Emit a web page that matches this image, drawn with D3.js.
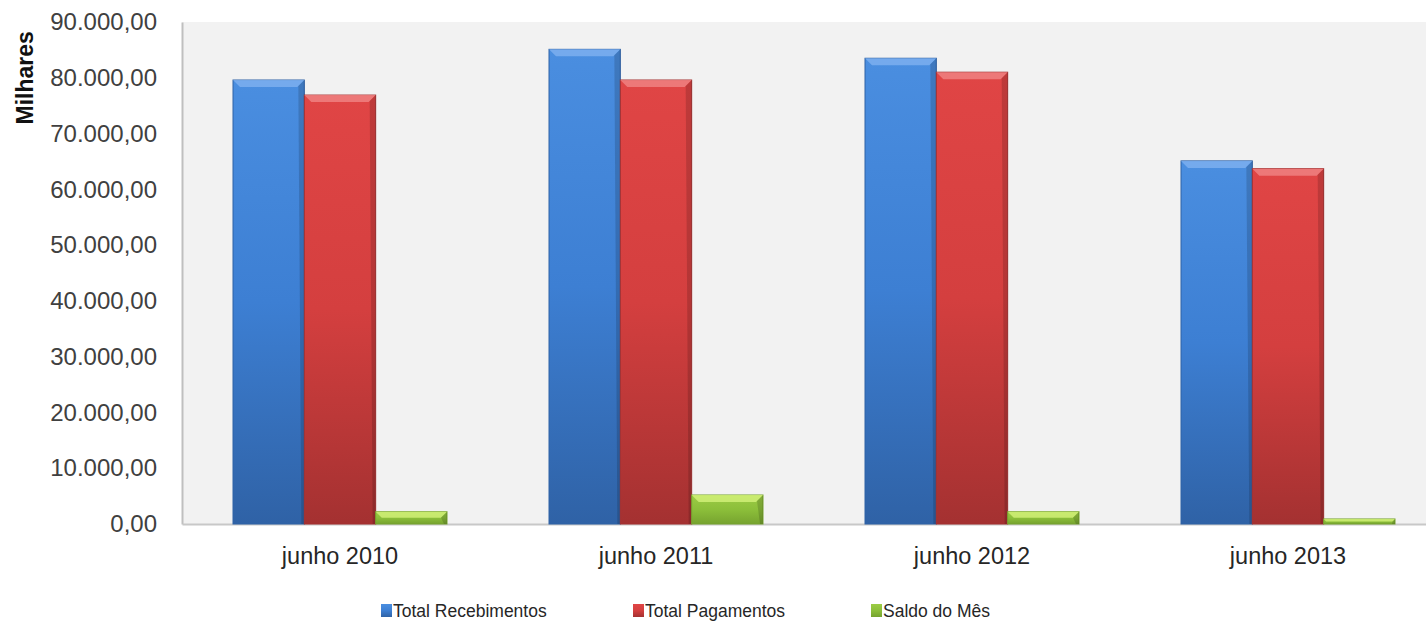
<!DOCTYPE html>
<html>
<head>
<meta charset="utf-8">
<script src="https://cdn.jsdelivr.net/npm/d3@7"></script>
<style>
  body { margin: 0; background: #fff; }
  svg { display: block; }
</style>
</head>
<body>
<svg id="chart" width="1426" height="629"></svg>
<script>
const categories = ["junho 2010", "junho 2011", "junho 2012", "junho 2013"];
const seriesNames = ["Total Recebimentos", "Total Pagamentos", "Saldo do Mês"];
const recebimentos = [79600, 85100, 83500, 65100];
const pagamentos = [76900, 79600, 81000, 63700];
const saldo = [2200, 5200, 2200, 900];
const yTicks = [0, 10000, 20000, 30000, 40000, 50000, 60000, 70000, 80000, 90000];

const FONT = "'Liberation Sans', Arial, sans-serif";

const colors = [
  { top: "#4a8ee0", mid: "#3d7fd3", bot: "#2f62a6", hi: "#7fb2f0" },
  { top: "#e04545", mid: "#d43f3f", bot: "#a43131", hi: "#f08585" },
  { top: "#9ccc45", mid: "#8cbf3a", bot: "#76a32f", hi: "#d4f27a" }
];

const svg = d3.select("#chart").attr("font-family", FONT);
const margin = { top: 22, left: 182, bottom: 105 };
const bandW = 316;
const innerH = 629 - margin.top - margin.bottom;

const x = d3.scaleBand().domain(categories)
  .range([margin.left, margin.left + bandW * categories.length])
  .paddingInner(0).paddingOuter(0);
const x1 = d3.scaleBand().domain(seriesNames)
  .range([51, bandW - 51]);
const y = d3.scaleLinear().domain([0, 90000]).range([margin.top + innerH, margin.top]);

// gradientes
const defs = svg.append("defs");
colors.forEach((c, i) => {
  const g = defs.append("linearGradient").attr("id", "grad" + i)
    .attr("x1", 0).attr("y1", 0).attr("x2", 0).attr("y2", 1);
  g.append("stop").attr("offset", "0%").attr("stop-color", c.top);
  g.append("stop").attr("offset", "50%").attr("stop-color", c.mid);
  g.append("stop").attr("offset", "100%").attr("stop-color", c.bot);
});

// fundo da area do grafico
svg.append("rect")
  .attr("x", margin.left).attr("y", margin.top)
  .attr("width", 1426 - margin.left).attr("height", innerH)
  .attr("fill", "#f2f2f2");

// eixos
const fmt = v => d3.format(",.2f")(v).replace(/,/g, "#").replace(/\./g, ",").replace(/#/g, ".");
svg.append("g")
  .attr("transform", `translate(${margin.left},0)`)
  .call(d3.axisLeft(y).tickValues(yTicks).tickFormat(fmt).tickSize(0).tickPadding(25))
  .attr("font-family", FONT)
  .call(g => g.select(".domain").attr("stroke", "#bfbfbf").attr("stroke-width", 2))
  .call(g => g.selectAll("text").attr("font-size", 24).attr("fill", "#404040"));

svg.append("g")
  .attr("transform", `translate(0,${y(0)})`)
  .call(d3.axisBottom(x).tickSize(0).tickPadding(23))
  .attr("font-family", FONT)
  .call(g => g.select(".domain").attr("stroke", "#c8c8c8").attr("stroke-width", 2))
  .call(g => g.selectAll("text").attr("font-size", 23.5).attr("fill", "#262626"));

svg.append("text")
  .attr("transform", `translate(33,${y(80000)}) rotate(-90)`)
  .attr("text-anchor", "middle")
  .attr("font-size", 23).attr("font-weight", "bold").attr("fill", "#111")
  .text("Milhares");

// barras
const series = [recebimentos, pagamentos, saldo];
const rows = [];
series.forEach((vals, si) => vals.forEach((v, ci) => rows.push({ si, ci, v })));

const bars = svg.append("g").selectAll("g").data(rows).join("g")
  .attr("transform", d => `translate(${x(categories[d.ci]) + x1(seriesNames[d.si])},0)`);

const bw = x1.bandwidth();
bars.append("rect")
  .attr("x", 0).attr("width", bw)
  .attr("y", d => y(d.v)).attr("height", d => y(0) - y(d.v))
  .attr("fill", d => `url(#grad${d.si})`)
  .attr("stroke", d => colors[d.si].bot).attr("stroke-width", 1);

// chanfro no topo
bars.append("path")
  .attr("d", d => {
    const t = y(d.v), b = Math.min(7, (y(0) - t) / 2);
    return `M0,${t} L${bw},${t} L${bw - b},${t + b} L${b},${t + b} Z`;
  })
  .attr("fill", d => colors[d.si].hi).attr("opacity", 0.8);
bars.append("path")
  .attr("d", d => {
    const t = y(d.v), b = Math.min(6, (y(0) - t) / 2);
    return `M${bw},${t} L${bw},${y(0)} L${bw - 3},${y(0)} L${bw - b},${t + b} Z`;
  })
  .attr("fill", "#000").attr("opacity", 0.15);

// legenda
const legendX = [381, 633, 871];
const lg = svg.append("g").selectAll("g").data(seriesNames).join("g")
  .attr("transform", (d, i) => `translate(${legendX[i]},611)`);
lg.append("rect").attr("x", 0).attr("y", -7).attr("width", 11).attr("height", 13)
  .attr("fill", (d, i) => `url(#grad${i})`);
lg.append("text").attr("x", 12).attr("y", 0).attr("dy", "0.35em")
  .attr("font-size", 17.5).attr("fill", "#262626").text(d => d);
</script>
</body>
</html>
